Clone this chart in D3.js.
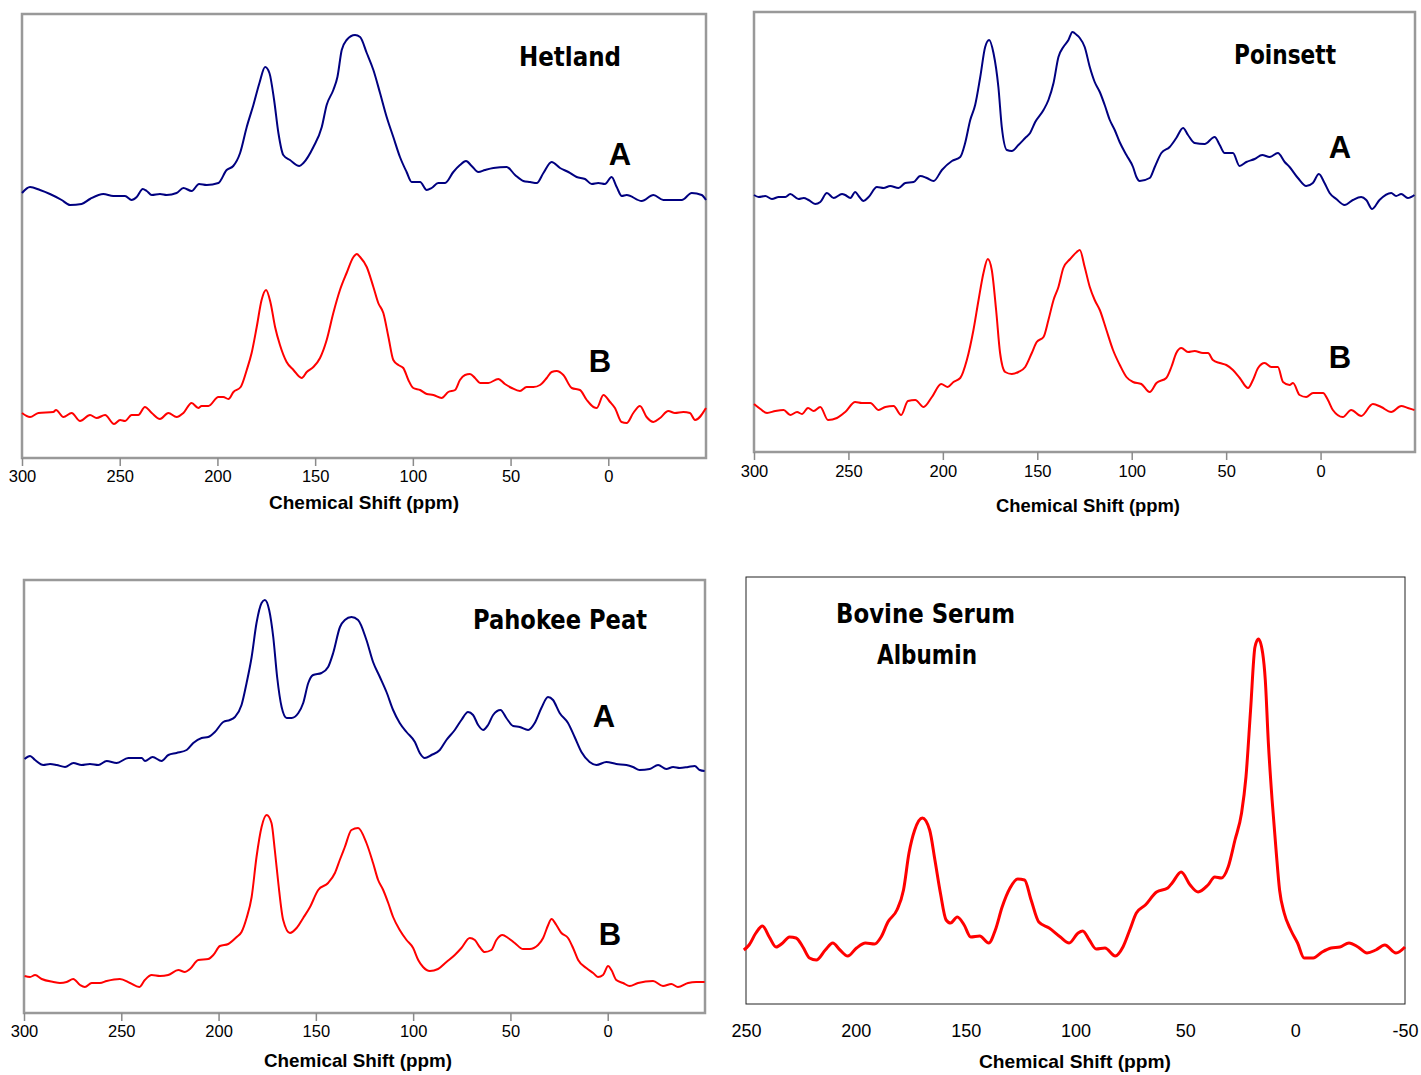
<!DOCTYPE html>
<html>
<head>
<meta charset="utf-8">
<script src="https://cdn.jsdelivr.net/npm/d3@7"></script>
<style>
  body { margin: 0; background: #fff; }
</style>
</head>
<body>
<svg id="chart" width="1421" height="1075"></svg>
<script>
// spectra: [chemical shift (ppm), intensity (arb. units)]
var hetlandA = [[300,265],[295.9,271],[290.8,268],[285.7,264],[279.7,258],[275.4,253],[269.5,254],[265.2,259],[258.4,264],[253.3,262],[247.3,262],[243.9,258],[241.3,261],[238.2,269],[236.2,267],[233.6,263],[229.4,264],[226,263],[220.9,265],[217.4,270],[213.2,267],[209.4,274],[205.5,273],[199.5,275],[195.3,288],[191.9,292],[188.4,305],[185,331],[181.6,353],[178.5,375],[175.6,391],[173.4,385],[171,358],[168.8,325],[166.3,303],[162.9,298],[158.1,292],[156,295],[150.9,311],[146.6,331],[144.1,353],[140.7,368],[138.6,381],[136.4,408],[133.9,418],[129.6,423],[127,421],[123.6,405],[120.2,388],[116.8,365],[113.4,341],[110,321],[106.6,301],[103.2,286],[100.6,276],[96.3,276],[92.9,268],[90.4,270],[87,275],[83.5,275],[79.3,286],[75.9,293],[72.8,297],[69.9,292],[66.5,286],[63.1,288],[58.8,290],[52,291],[47.7,283],[43.5,277],[40,276],[36.6,275],[33.2,285],[29,296],[24.7,290],[20.4,286],[16.2,281],[11.9,279],[8.5,274],[5.1,275],[1.7,274],[-1.7,281],[-4.3,271],[-6.9,262],[-9.4,263],[-17.1,257],[-23.1,263],[-28.2,258],[-33.3,258],[-37.6,258],[-42.7,265],[-47.8,263],[-50,258]];
var hetlandB = [[300,45],[295.9,41],[291.6,45],[284,46],[282.6,48],[278.8,41],[274.6,45],[270.3,37],[265.2,43],[261.8,40],[257.5,43],[252.9,34],[249.8,38],[247.3,37],[243.9,43],[240.5,43],[237.1,51],[233.6,45],[229.4,39],[225.1,45],[220.9,41],[217.4,45],[213.2,55],[209.8,50],[208.1,52],[204.6,52],[199.5,61],[197,61],[194.4,59],[191.8,66],[188.1,71],[185,88],[182.5,105],[179.9,131],[177.4,158],[175.1,168],[172.8,155],[170.5,131],[168,113],[164.6,96],[161.1,88],[156.9,80],[154.3,86],[150.9,91],[147.5,100],[144.1,118],[140.7,145],[137.3,168],[133.9,185],[130.4,201],[128.7,204],[127,201],[123.6,191],[120.2,171],[117.7,155],[115.1,145],[112.5,121],[110,98],[107.4,93],[104.9,90],[102.3,78],[99.8,70],[96.3,68],[92.9,64],[89.5,63],[85.3,60],[81.9,66],[78.4,68],[75.9,78],[73.3,83],[70.8,84],[68.2,80],[65.6,75],[61.4,75],[56.3,79],[52.9,74],[49.4,70],[45.2,67],[41.8,71],[38.3,71],[34.9,73],[31.5,80],[29,86],[26.4,87],[23,83],[18.7,70],[14.5,68],[11,58],[7.6,51],[5.9,50],[2.5,63],[-0.9,56],[-3.4,50],[-6.8,36],[-9.4,35],[-12.8,45],[-16.2,52],[-19.6,41],[-23.1,36],[-26.5,40],[-30.7,47],[-34.1,45],[-38.4,46],[-41.8,45],[-44.4,38],[-50,50]];

var poinsettA = [[300,257],[297.5,255],[294,256],[290.5,253],[286.9,255],[283.4,255],[280.8,258],[276.4,253],[273.7,254],[271.1,252],[267.6,248],[264.9,250],[261.4,259],[257.8,254],[253.4,258],[251.7,257],[249,254],[246.4,260],[244.6,256],[242,251],[239.3,255],[234.9,265],[231.4,264],[227.9,266],[223.5,264],[219.9,269],[215.5,270],[212,276],[208.5,274],[204.9,271],[200.5,282],[195.2,291],[190.8,295],[188.2,309],[185.5,332],[182.9,347],[180.2,375],[177.6,405],[175.5,412],[173.2,399],[170.6,365],[168.8,325],[166.1,302],[163.5,301],[160,307],[156.4,314],[153.8,319],[151.1,330],[146.7,342],[144.1,352],[141.4,369],[138.8,395],[136.2,405],[133.5,412],[131.4,420],[129.1,417],[127.5,414],[124.9,405],[122.2,385],[119.6,370],[116.9,360],[114.3,347],[111.6,332],[109,322],[106.4,310],[102.8,297],[99.3,285],[97.5,275],[95.8,271],[90.5,274],[87.8,285],[84.3,299],[79.9,305],[76.4,314],[72.8,324],[70.2,317],[66.7,309],[61.4,308],[56.1,315],[53.4,307],[50.8,299],[46.4,299],[42.9,286],[39.3,290],[34.9,293],[30.9,297],[27,295],[22.6,299],[19,290],[16.4,285],[12,274],[7.6,266],[4.1,269],[0.9,278],[-2.1,269],[-4.8,259],[-8.3,253],[-12.7,247],[-17.1,252],[-21.5,255],[-24.2,252],[-27.3,243],[-31.2,252],[-37.4,259],[-40,256],[-42.7,258],[-46.2,254],[-49.7,257]];
var poinsettB = [[300,48],[296.6,43],[293.1,39],[288.7,41],[284.3,42],[280.8,37],[277.2,40],[274.6,38],[271.4,44],[268.4,41],[264.9,45],[260.8,32],[256.1,34],[251.7,40],[246.4,50],[242.9,49],[238.4,49],[234,42],[230.5,45],[226.1,46],[222.1,37],[218.5,51],[214.6,52],[210.2,45],[205.8,55],[200.9,68],[197.4,65],[194.4,70],[190.8,74],[187.3,92],[183.8,122],[181.1,152],[178.5,179],[176.2,193],[174.1,182],[171.8,142],[169.7,99],[167,80],[163.5,78],[160,80],[156.4,85],[152.9,99],[150.3,110],[146.7,115],[144.1,132],[141.4,152],[138.8,165],[136.2,184],[132.6,193],[129.1,200],[127.5,202],[124.9,185],[122.2,165],[119.6,152],[116.9,142],[113.4,122],[109.9,102],[106.3,87],[102.8,75],[99.3,70],[94.9,68],[90.5,60],[86.9,69],[81.7,74],[79,85],[76.4,99],[73.7,104],[70.2,100],[66.7,101],[62.3,99],[59.6,99],[57,92],[53.4,89],[49.9,87],[46.4,82],[42.8,74],[38.4,64],[35.8,72],[33.1,84],[29.6,89],[26.1,85],[22.6,85],[19.9,70],[16.4,67],[14.6,69],[11.1,57],[7.6,55],[4,59],[-1.3,59],[-3.9,52],[-6.5,42],[-11.8,35],[-16.2,42],[-21.5,36],[-27.7,48],[-32.1,45],[-37.4,40],[-42.7,46],[-46.2,44],[-49.7,42]];

var pahokeeA = [[299.7,254],[296.9,257],[294.3,253],[290.1,248],[286.6,249],[283.2,248],[278.9,246],[274.6,250],[270.4,248],[266.1,249],[261.8,248],[257.5,252],[252.4,250],[246.4,255],[239.5,255],[237.8,252],[233.9,256],[229.3,252],[225.8,258],[221.6,260],[216.4,263],[213,270],[208.7,275],[205.3,276],[201.9,281],[197.6,291],[194.2,293],[191.6,296],[188.2,308],[185.6,330],[183,356],[180.5,390],[177.9,410],[176.2,413],[174,403],[171.9,376],[169.9,336],[167.6,306],[165,295],[162.5,295],[159,300],[156.5,310],[153.9,330],[151.4,338],[147.1,340],[143.7,346],[141.1,360],[137.6,386],[135.1,393],[131.7,396],[128.3,393],[124,373],[120.6,351],[117.1,336],[113.7,321],[110.3,303],[106.9,290],[103.4,281],[99.1,271],[96.6,260],[94,255],[90.6,258],[86.3,263],[82.9,273],[78.6,283],[75.2,293],[71.8,301],[69.2,298],[66.6,288],[64,283],[61.5,288],[58.9,298],[55.1,303],[52.1,295],[48.6,287],[45.2,286],[40.9,283],[37.5,290],[34.1,305],[30.7,316],[28.1,313],[24.7,300],[20.4,290],[17,276],[13.5,261],[9.3,251],[5.8,248],[0.7,251],[-4.4,249],[-9.6,248],[-13,246],[-16.4,243],[-21.6,244],[-25.9,248],[-30.1,244],[-33.6,246],[-37,245],[-41.3,246],[-44.7,247],[-47.3,243],[-49.8,242]];
var pahokeeB = [[299.7,37],[296.9,36],[294.3,38],[290.9,34],[284.9,31],[281.5,30],[278.1,31],[274.7,34],[271.2,28],[268.7,26],[265.2,30],[261,30],[257.5,32],[250.7,34],[245.5,30],[240.8,26],[237.9,33],[234.4,38],[230.1,37],[225.9,38],[220.7,43],[217.3,41],[214.7,44],[210.4,53],[205.3,54],[202.7,58],[199.3,67],[195,69],[190.7,76],[188.2,81],[185.6,95],[183,116],[180.5,156],[177.9,186],[175.3,198],[172.8,190],[171.1,163],[169.3,130],[166.8,93],[163.3,80],[159.9,85],[156.5,95],[153,106],[148.8,123],[143.7,130],[140.2,140],[137.7,153],[135.1,166],[131.7,183],[128.3,185],[124,170],[120.6,150],[118,133],[115.4,123],[112.8,110],[110.3,96],[106.9,83],[103.4,73],[100,65],[97.4,53],[94.9,46],[91.4,42],[87.2,44],[82.9,51],[78.6,58],[75.2,65],[70.9,75],[68.3,73],[65.8,66],[63.2,61],[59.8,63],[57.2,73],[54.1,78],[51.2,75],[47.8,70],[43.5,64],[40.1,64],[35.8,68],[33.2,75],[30.6,88],[28.9,94],[26.4,88],[23.8,80],[20.4,75],[17.8,65],[15.2,53],[11,45],[7.5,40],[5,36],[2.4,38],[-0.2,47],[-1.9,43],[-4.4,33],[-7.9,30],[-11.3,27],[-15.6,30],[-23.3,32],[-28.4,27],[-32.7,29],[-36.1,26],[-41.3,30],[-45.5,31],[-49.8,31]];

var bsa = [[251,54],[248.6,59],[245.5,71],[242.5,78],[239.4,67],[236.3,57],[233.3,61],[230.2,67],[227.2,66],[224.1,57],[221.1,46],[218,44],[213.9,54],[210.5,61],[207.2,54],[203.7,48],[199.7,56],[195.6,61],[191.5,60],[188.5,67],[185.4,82],[181.3,94],[178.3,114],[175.8,151],[173.2,174],[169.7,186],[166.4,174],[164,144],[161.5,111],[158.9,84],[156.9,81],[153.8,87],[150.7,79],[147.7,67],[143.6,68],[139.5,61],[136.5,74],[133.4,97],[129.8,116],[126.3,125],[123.2,124],[120.2,104],[116.7,82],[112,76],[106.9,67],[102.9,61],[98.8,71],[96.7,73],[93.7,64],[90.6,55],[86.6,56],[81.9,48],[78.4,57],[75.3,74],[72.3,91],[68.2,99],[63.1,112],[58,116],[56,121],[51.9,132],[47.8,119],[44.2,112],[39.7,119],[36.6,127],[33.6,126],[30.5,137],[27.4,164],[24.4,191],[22.4,227],[20.3,294],[18.3,357],[16.7,365],[14.8,351],[13.6,324],[12.2,261],[10.5,204],[8.7,154],[7.1,114],[5,91],[2,74],[-1.1,61],[-4.1,46],[-8.2,46],[-12.3,52],[-16.4,56],[-20.4,57],[-24.5,61],[-28.6,57],[-32.7,51],[-36.7,54],[-40.8,59],[-45.9,51],[-50,57]];

var soilTicks = [300, 250, 200, 150, 100, 50, 0];
var bsaTicks = [250, 200, 150, 100, 50, 0, -50];

var navy = "#000080", red = "#ff0000";

var svg = d3.select("#chart");
svg.append("rect").attr("width", 1421).attr("height", 1075).attr("fill", "#fff");

var panels = [
    {left: 22, right: 706, top: 14, bottom: 458, xDomain: [300, -50], ticks: soilTicks,
     frame: "#999", frameWidth: 2.5, tickSize: 8, tickPad: 4, tickFont: 16.5,
     title: {x: 364, y: 509, len: 190},
     traces: [{data: hetlandA, color: navy, w: 2}, {data: hetlandB, color: red, w: 2}],
     names: [{t: "Hetland", x: 519, y: 66, len: 102}],
     letters: [{t: "A", x: 620, y: 165}, {t: "B", x: 600, y: 372}]},
    {left: 754, right: 1415, top: 12, bottom: 452, xDomain: [300, -50], ticks: soilTicks,
     frame: "#999", frameWidth: 2.5, tickSize: 8, tickPad: 5, tickFont: 16.5,
     title: {x: 1088, y: 512, len: 184},
     traces: [{data: poinsettA, color: navy, w: 2}, {data: poinsettB, color: red, w: 2}],
     names: [{t: "Poinsett", x: 1234, y: 64, len: 102}],
     letters: [{t: "A", x: 1340, y: 158}, {t: "B", x: 1340, y: 368}]},
    {left: 24, right: 705, top: 580, bottom: 1013, xDomain: [300, -50], ticks: soilTicks,
     frame: "#999", frameWidth: 2.5, tickSize: 8, tickPad: 4, tickFont: 16.5,
     title: {x: 358, y: 1067, len: 188},
     traces: [{data: pahokeeA, color: navy, w: 2}, {data: pahokeeB, color: red, w: 2}],
     names: [{t: "Pahokee Peat", x: 473, y: 629, len: 174}],
     letters: [{t: "A", x: 604, y: 727}, {t: "B", x: 610, y: 945}]},
    {left: 746, right: 1405, top: 577, bottom: 1004, xDomain: [250, -50], ticks: bsaTicks,
     frame: "#222", frameWidth: 1, tickSize: 0, tickPad: 20, tickFont: 18,
     title: {x: 1075, y: 1068, len: 192},
     traces: [{data: bsa, color: red, w: 3}],
     names: [{t: "Bovine Serum", x: 836, y: 623, len: 179}, {t: "Albumin", x: 877, y: 664, len: 100}],
     letters: []}
];

function drawPanel(p) {
    var x = d3.scaleLinear().domain(p.xDomain).range([p.left, p.right]);
    var y = d3.scaleLinear().domain([0, p.bottom - p.top]).range([p.bottom, p.top]);
    var g = svg.append("g");

    g.append("rect")
        .attr("x", p.left).attr("y", p.top)
        .attr("width", p.right - p.left).attr("height", p.bottom - p.top)
        .attr("fill", "none")
        .attr("stroke", p.frame)
        .attr("stroke-width", p.frameWidth);

    var line = d3.line()
        .x(function(d) { return x(d[0]); })
        .y(function(d) { return y(d[1]); })
        .curve(d3.curveMonotoneX);

    p.traces.forEach(function(t) {
        g.append("path")
            .datum(t.data)
            .attr("d", line)
            .attr("fill", "none")
            .attr("stroke", t.color)
            .attr("stroke-width", t.w)
            .attr("stroke-linejoin", "round");
    });

    var axis = d3.axisBottom(x)
        .tickValues(p.ticks)
        .tickFormat(function(d) { return String(d); })
        .tickSize(p.tickSize)
        .tickPadding(p.tickPad);

    var ax = g.append("g")
        .attr("transform", "translate(0," + p.bottom + ")")
        .call(axis);
    ax.select(".domain").remove();
    ax.selectAll(".tick line").attr("stroke", "#8a8a8a").attr("stroke-width", 1.5);
    ax.selectAll(".tick text")
        .attr("fill", "#000")
        .attr("font-family", "'Liberation Sans', Arial, sans-serif")
        .attr("font-size", p.tickFont);

    g.append("text")
        .attr("x", p.title.x - p.title.len / 2)
        .attr("y", p.title.y)
        .attr("font-family", "'Liberation Sans', Arial, sans-serif")
        .attr("font-weight", "bold")
        .attr("font-size", 18.5)
        .attr("textLength", p.title.len)
        .attr("lengthAdjust", "spacingAndGlyphs")
        .text("Chemical Shift (ppm)");

    p.names.forEach(function(n) {
        g.append("text")
            .attr("x", n.x).attr("y", n.y)
            .attr("font-family", "'Comic Sans MS', 'DejaVu Sans', sans-serif")
            .attr("font-weight", "bold")
            .attr("font-size", 27)
            .attr("textLength", n.len)
            .attr("lengthAdjust", "spacingAndGlyphs")
            .text(n.t);
    });

    p.letters.forEach(function(l) {
        g.append("text")
            .attr("x", l.x).attr("y", l.y)
            .attr("text-anchor", "middle")
            .attr("font-family", "'Liberation Sans', Arial, sans-serif")
            .attr("font-weight", "bold")
            .attr("font-size", 31)
            .text(l.t);
    });
}

panels.forEach(drawPanel);
</script>
</body>
</html>
